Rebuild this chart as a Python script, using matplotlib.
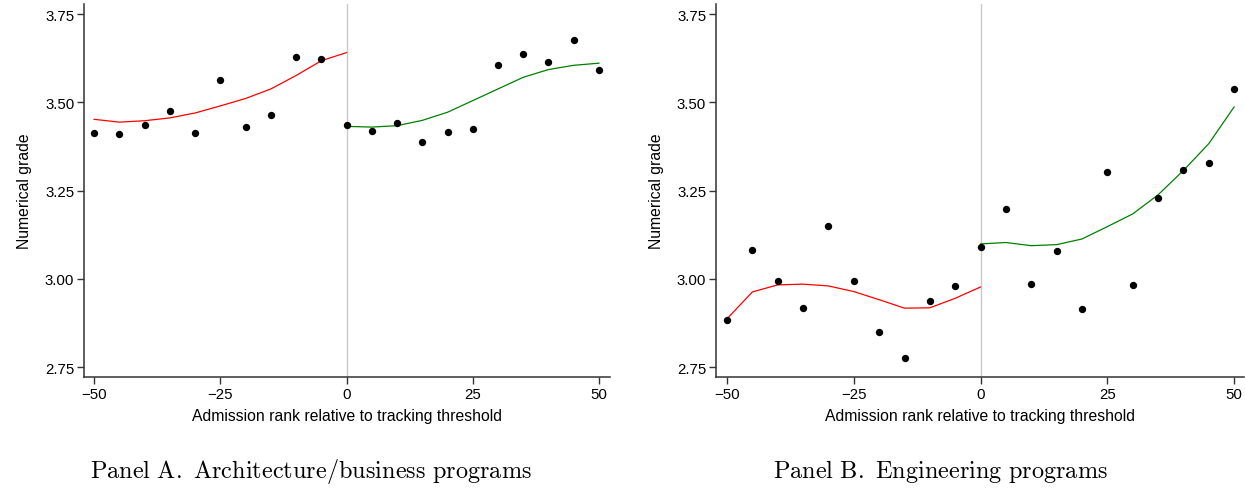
import matplotlib
matplotlib.use("Agg")
import matplotlib.pyplot as plt

plt.rcParams['font.family'] = ['Liberation Sans', 'DejaVu Sans']
plt.rcParams['mathtext.fontset'] = 'cm'
plt.rcParams['axes.unicode_minus'] = True

rank = [-50, -45, -40, -35, -30, -25, -20, -15, -10, -5, 0, 5, 10, 15, 20, 25, 30, 35, 40, 45, 50]
left_x = [-50, -45, -40, -35, -30, -25, -20, -15, -10, -5, 0]
right_x = [0, 5, 10, 15, 20, 25, 30, 35, 40, 45, 50]

# Panel A: Architecture/business
a_points = [3.414, 3.410, 3.437, 3.476, 3.412, 3.563, 3.429, 3.464, 3.629, 3.623,
            3.436, 3.418, 3.441, 3.388, 3.416, 3.424, 3.607, 3.638, 3.615, 3.676, 3.593]
a_fit_left = [3.452, 3.444, 3.448, 3.456, 3.470, 3.490, 3.511, 3.538, 3.576, 3.618, 3.641]
a_fit_right = [3.432, 3.430, 3.434, 3.449, 3.472, 3.505, 3.538, 3.571, 3.593, 3.605, 3.611]

# Panel B: Engineering
b_points = [2.883, 3.081, 2.995, 2.917, 3.149, 2.995, 2.849, 2.776, 2.937, 2.980,
            3.091, 3.199, 2.986, 3.078, 2.915, 3.303, 2.984, 3.228, 3.307, 3.329, 3.538]
b_fit_left = [2.887, 2.963, 2.983, 2.985, 2.980, 2.964, 2.941, 2.917, 2.918, 2.945, 2.977]
b_fit_right = [3.099, 3.103, 3.094, 3.097, 3.113, 3.148, 3.184, 3.238, 3.307, 3.383, 3.487]

yticks = [2.75, 3.00, 3.25, 3.50, 3.75]
xticks = [-50, -25, 0, 25, 50]
titles = [r'$\mathrm{Panel\ A.\ Architecture/business\ programs}$',
          r'$\mathrm{Panel\ B.\ Engineering\ programs}$']
title_x = [311 / 1245, 940 / 1245]

fig = plt.figure(figsize=(12.45, 4.89), dpi=100)
ax_a = fig.add_axes([0.0675, 0.227, 0.4225, 0.763])
ax_b = fig.add_axes([0.575, 0.227, 0.424, 0.763])

panels = [(ax_a, a_points, a_fit_left, a_fit_right, (-52, 52.2)),
          (ax_b, b_points, b_fit_left, b_fit_right, (-52.2, 51.9))]

for i, (ax, pts, fl, fr, xl) in enumerate(panels):
    ax.axvline(0, color='#c8c8c8', lw=1.0, zorder=1)
    ax.plot(left_x, fl, color='#ff0000', lw=0.9, zorder=2)
    ax.plot(right_x, fr, color='#008000', lw=0.9, zorder=2)
    ax.scatter(rank, pts, s=28, color='black', zorder=3, linewidths=0)
    ax.set_xlim(*xl)
    ax.set_ylim(2.722, 3.779)
    ax.set_yticks(yticks)
    ax.set_yticklabels([f'{v:.2f}' for v in yticks])
    ax.set_xticks(xticks)
    ax.set_xticklabels([str(v).replace('-', '\u2212') for v in xticks])
    for s in ['top', 'right']:
        ax.spines[s].set_visible(False)
    for s in ['left', 'bottom']:
        ax.spines[s].set_color('#333333')
        ax.spines[s].set_linewidth(1.1)
    ax.tick_params(axis='both', direction='out', length=5, width=1, color='#333333',
                   labelsize=10.8, pad=2)
    ax.set_xlabel('Admission rank relative to tracking threshold', fontsize=11.3, labelpad=5)
    ax.set_ylabel('Numerical grade', fontsize=11.3, labelpad=9)
    fig.text(title_x[i], 1 - 478 / 489, titles[i], ha='center', va='baseline',
             fontsize=17.5)

fig.savefig('out.png', dpi=100)
